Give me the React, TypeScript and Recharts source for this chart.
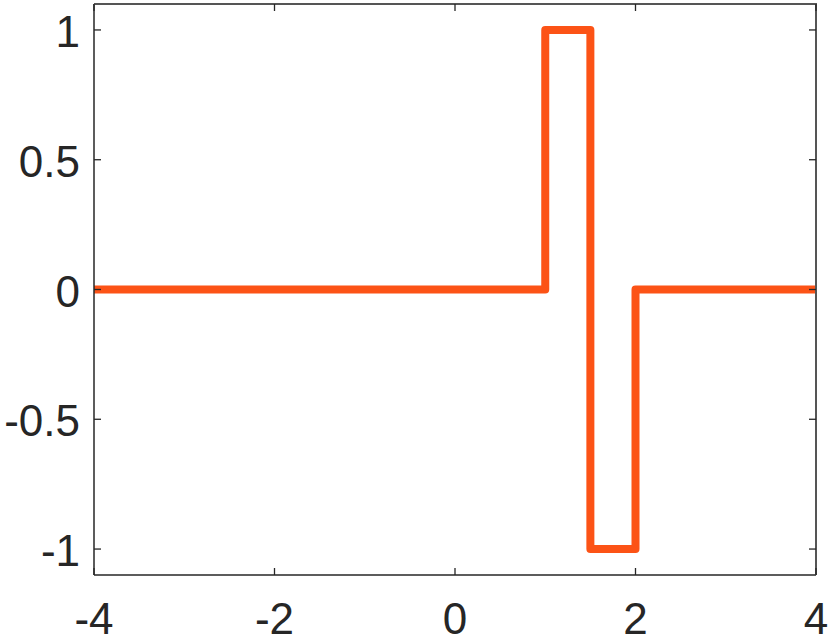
import { LineChart, Line, XAxis, YAxis } from "recharts";

// step signal samples (x, y)
const xs = [-4, 1, 1, 1.5, 1.5, 2, 2, 4];
const ys = [0, 0, 1, 1, -1, -1, 0, 0];
const xTicks = [-4, -2, 0, 2, 4];
const yTicks = [-1, -0.5, 0, 0.5, 1];
const xDomain = [-4, 4];
const yDomain = [-1.1, 1.1];

const data = xs.map((x, i) => ({ x, y: ys[i] }));

const AXIS = "#262626";
const FONT = "'Liberation Sans', Arial, Helvetica, sans-serif";

// plot box edges (from the margins / axis sizes below)
const LEFT = 94;
const TOP = 4;
const RIGHT = 816;
const BOTTOM = 575;
const TICK = 7;

// bottom labels + inward tick marks on bottom and top edges
const BottomTick = (p: any) => (
  <g>
    {p.index === 0 && (
      <g stroke="#555" strokeWidth={2}>
        <line x1={LEFT} y1={TOP} x2={RIGHT + 1} y2={TOP} />
        <line x1={RIGHT} y1={TOP} x2={RIGHT} y2={BOTTOM} />
      </g>
    )}
    <line x1={p.x} y1={BOTTOM} x2={p.x} y2={BOTTOM - TICK} stroke={AXIS} strokeWidth={1.3} />
    <line x1={p.x} y1={TOP} x2={p.x} y2={TOP + TICK} stroke={AXIS} strokeWidth={1.3} />
    <text x={p.x} y={BOTTOM + 59} textAnchor="middle" fontSize={44} fill={AXIS} fontFamily={FONT}>
      {p.payload.value}
    </text>
  </g>
);

// left labels + inward tick marks on left and right edges
const LeftTick = (p: any) => (
  <g>
    <line x1={LEFT} y1={p.y} x2={LEFT + TICK} y2={p.y} stroke={AXIS} strokeWidth={1.3} />
    <line x1={RIGHT} y1={p.y} x2={RIGHT - TICK} y2={p.y} stroke={AXIS} strokeWidth={1.3} />
    <text x={LEFT - 14} y={p.y + 17} textAnchor="end" fontSize={44} fill={AXIS} fontFamily={FONT}>
      {p.payload.value}
    </text>
  </g>
);

export default function App() {
  return (
    <div style={{ position: "absolute", left: 0, top: 0, background: "#fff" }}>
      <LineChart width={830} height={641} data={data} margin={{ top: TOP, right: 830 - RIGHT, left: 0, bottom: 0 }}>
        <XAxis dataKey="x" type="number" domain={xDomain} ticks={xTicks} height={641 - BOTTOM}
          tickSize={0} tickMargin={0} tickLine={false} stroke={AXIS} strokeWidth={1.5} tick={BottomTick} interval={0} />
        <YAxis type="number" domain={yDomain} ticks={yTicks} width={LEFT}
          tickSize={0} tickMargin={0} tickLine={false} stroke={AXIS} strokeWidth={1.5} tick={LeftTick} interval={0} />
        <Line dataKey="y" type="linear" stroke="#FC5316" strokeWidth={8} dot={false}
          strokeLinejoin="round" isAnimationActive={false} />
      </LineChart>
    </div>
  );
}
